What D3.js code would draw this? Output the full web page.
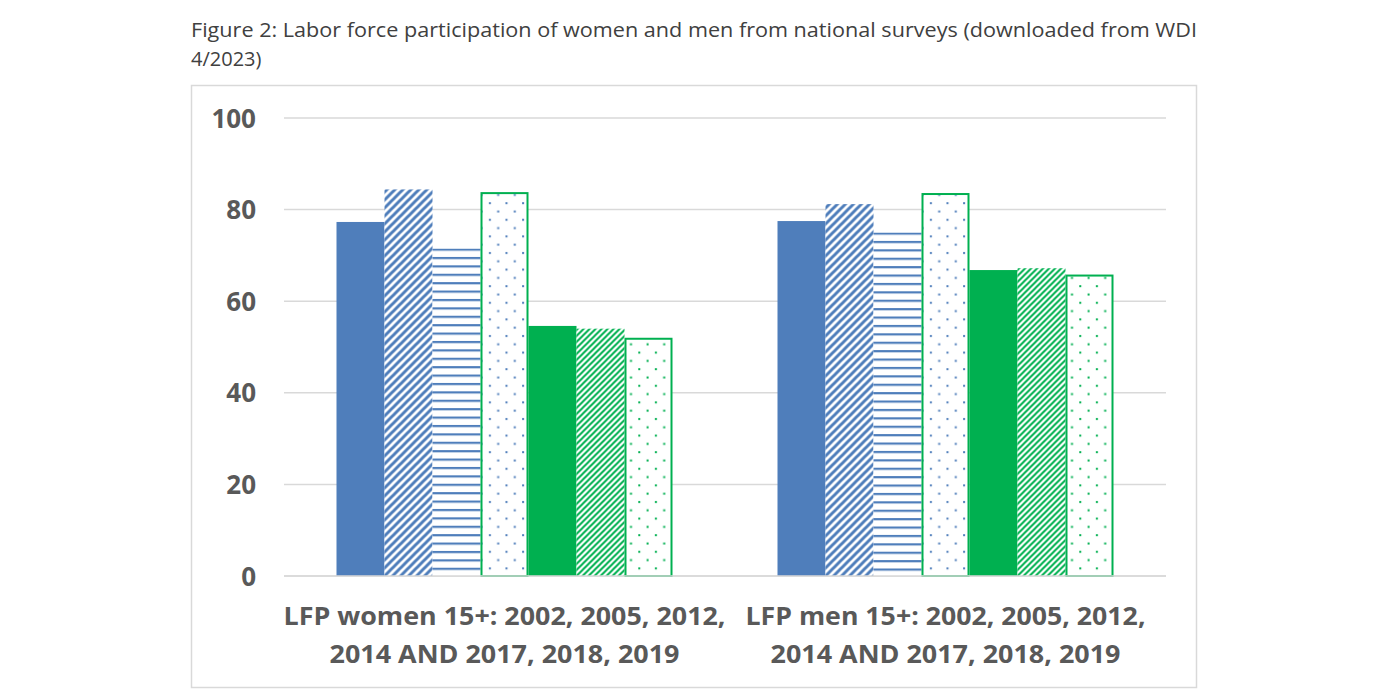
<!DOCTYPE html>
<html><head><meta charset="utf-8">
<script src="https://cdn.jsdelivr.net/npm/d3@7"></script>
<style>body{margin:0;background:#fff}svg{display:block}</style>
</head><body>
<script>
const categories = ["LFP women 15+: 2002, 2005, 2012, 2014 AND 2017, 2018, 2019", "LFP men 15+: 2002, 2005, 2012, 2014 AND 2017, 2018, 2019"];
const categoryLines = [["LFP women 15+: 2002, 2005, 2012,", "2014 AND 2017, 2018, 2019"], ["LFP men 15+: 2002, 2005, 2012,", "2014 AND 2017, 2018, 2019"]];
const seriesNames = ["s1", "s2", "s3", "s4", "s5", "s6", "s7"];
const womenValues = [77.3, 84.4, 71.5, 83.6, 54.6, 54.0, 51.8];
const menValues = [77.5, 81.2, 75.0, 83.4, 66.8, 67.2, 65.6];
const yTicks = [0, 20, 40, 60, 80, 100];
const titleLines = ["Figure 2: Labor force participation of women and men from national surveys (downloaded from WDI", "4/2023)"];

const blue = "#4F7EBB", green = "#00B050";
const W = 1400, H = 700;
const svg = d3.select("body").append("svg").attr("width", W).attr("height", H);
const defs = svg.append("defs");
const y = d3.scaleLinear().domain([0, 100]).range([576, 118]);

// patterns
function diag(id, color, size, sw) {
  const p = defs.append("pattern").attr("id", id).attr("patternUnits", "userSpaceOnUse")
    .attr("width", size).attr("height", size);
  p.append("rect").attr("width", size).attr("height", size).attr("fill", "#fff");
  p.append("path").attr("d", `M${-size/2},${size/2} L${size/2},${-size/2} M0,${size} L${size},0 M${size/2},${size*1.5} L${size*1.5},${size/2}`)
    .attr("stroke", color).attr("stroke-width", sw);
}
diag("p2", blue, 8, 3);
diag("p6", green, 6, 2);
function hlines(id, topY) {
  const ph = defs.append("pattern").attr("id", id).attr("patternUnits", "userSpaceOnUse")
    .attr("y", topY).attr("width", 8).attr("height", 8.4);
  ph.append("rect").attr("width", 8).attr("height", 8.4).attr("fill", "#fff");
  ph.append("rect").attr("y", 0).attr("width", 8).attr("height", 2.2).attr("fill", blue);
}
hlines("p3_0", y(womenValues[2]));
hlines("p3_1", y(menValues[2]));
function dots(id, color) {
  const p = defs.append("pattern").attr("id", id).attr("patternUnits", "userSpaceOnUse").attr("width", 16.6).attr("height", 16.6);
  p.append("rect").attr("width", 16.6).attr("height", 16.6).attr("fill", "#fff");
  p.append("rect").attr("x", 3).attr("y", 3).attr("width", 2).attr("height", 2).attr("fill", color);
  p.append("rect").attr("x", 11.3).attr("y", 11.3).attr("width", 2).attr("height", 2).attr("fill", color);
}
dots("p4", blue);
dots("p7", green);

const fillsFor = ci => [blue, "url(#p2)", `url(#p3_${ci})`, "url(#p4)", green, "url(#p6)", "url(#p7)"];
const strokes = [null, null, null, green, null, null, green];

// title
svg.selectAll("text.title").data(titleLines).join("text")
  .attr("x", 191).attr("y", (d, i) => 37 + i * 29)
  .attr("font-family", "Open Sans").attr("font-size", 20).attr("fill", "#404040")
  .attr("textLength", (d, i) => i === 0 ? 1006 : null)
  .attr("lengthAdjust", "spacingAndGlyphs")
  .text(d => d);

// frame
svg.append("rect").attr("x", 191.5).attr("y", 85.5).attr("width", 1005).attr("height", 602)
  .attr("fill", "none").attr("stroke", "#d9d9d9").attr("stroke-width", 1.5);

const x0 = d3.scaleBand().domain(categories).range([284, 1166]).paddingInner(0).paddingOuter(0);
const x1 = d3.scaleBand().domain(seriesNames).range([0, 336]);
const groupOffset = (x0.bandwidth() - 336) / 2;

// grid
svg.append("g").selectAll("line").data(yTicks).join("line")
  .attr("x1", 284).attr("x2", 1166).attr("y1", d => y(d)).attr("y2", d => y(d))
  .attr("stroke", "#d9d9d9").attr("stroke-width", 1.5);

// y axis labels
const yAxis = d3.axisLeft(y).tickValues(yTicks).tickSize(0).tickPadding(0);
const ya = svg.append("g").attr("transform", "translate(256,0)").call(yAxis);
ya.select(".domain").remove();
ya.selectAll("text").attr("font-family", "Open Sans").attr("font-weight", "bold")
  .attr("font-size", 26).attr("fill", "#595959").attr("dy", "0.35em");

// bars
const data = [womenValues, menValues];
data.forEach((vals, ci) => {
  const fills = fillsFor(ci);
  const g = svg.append("g").attr("transform", `translate(${x0(categories[ci]) + groupOffset},0)`);
  g.selectAll("rect").data(vals).join("rect")
    .attr("x", (d, i) => x1(seriesNames[i]) + (strokes[i] ? 1 : 0))
    .attr("y", d => y(d))
    .attr("width", (d, i) => x1.bandwidth() - (strokes[i] ? 2 : 0))
    .attr("height", d => y(0) - y(d))
    .attr("fill", (d, i) => fills[i])
    .attr("stroke", (d, i) => strokes[i] || "none")
    .attr("stroke-width", 2);
});
// redraw baseline over bars
svg.append("line").attr("x1", 284).attr("x2", 1166).attr("y1", y(0)).attr("y2", y(0))
  .attr("stroke", "#d9d9d9").attr("stroke-width", 1.5);

// category labels
categories.forEach((c, ci) => {
  const cx = x0(c) + x0.bandwidth() / 2;
  categoryLines[ci].forEach((line, li) => {
    svg.append("text").attr("x", cx).attr("y", 625 + li * 38)
      .attr("text-anchor", "middle").attr("font-family", "Open Sans").attr("font-weight", "bold")
      .attr("font-size", 25).attr("fill", "#595959")
      .attr("textLength", li === 0 ? (ci === 0 ? 442 : 400) : 350)
      .attr("lengthAdjust", "spacingAndGlyphs")
      .text(line);
  });
});
</script>
</body></html>
